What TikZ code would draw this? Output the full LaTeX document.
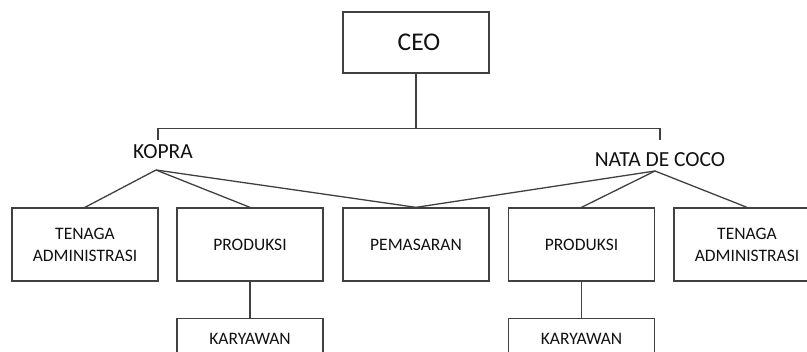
\documentclass[tikz,border=0pt]{standalone}
\usepackage{fontspec}
\setmainfont{Carlito}
\definecolor{linegray}{HTML}{404040}
\definecolor{txt}{HTML}{111111}
\tikzset{
  ln/.style={draw=linegray, line width=1.3pt},
  unitbox/.style={ln, rectangle, minimum width=146pt, minimum height=73pt, inner sep=0pt,
                  align=center, text=txt, font=\fontsize{17.5}{22}\selectfont},
  lowbox/.style={unitbox, minimum height=40pt, anchor=north},
  ceobox/.style={ln, rectangle, minimum width=146pt, minimum height=61pt, inner sep=0pt,
                 text=txt, font=\fontsize{25.5}{30}\selectfont},
  grp/.style={anchor=base, inner sep=0pt, text=txt, font=\fontsize{21.5}{25}\selectfont}
}
\begin{document}
\begin{tikzpicture}[x=1pt, y=-1pt]
\useasboundingbox (0,0) rectangle (807,352);
\clip (0,0) rectangle (807,352);
% CEO
\node[ceobox] (ceo) at (416,42.5) {\hspace*{6pt}CEO};
% group labels
\node[grp] (kopra) at (163,159) {KOPRA};
\node[grp] (nata) at (660,166.5) {NATA DE COCO};
\coordinate (bar) at (416,128.5);
\coordinate (kt) at (158,140);
\coordinate (nt) at (660,140);
\coordinate (kapex) at (156,170);
\coordinate (napex) at (655,171);
% boxes
\node[unitbox] (ta1) at (85,244.5) {TENAGA\\ADMINISTRASI};
\node[unitbox] (pr1) at (250,244.5) {PRODUKSI};
\node[unitbox] (pem) at (416,244.5) {PEMASARAN};
\node[unitbox] (pr2) at (581.5,244.5) {PRODUKSI};
\node[unitbox] (ta2) at (747,244.5) {TENAGA\\ADMINISTRASI};
\node[lowbox] (ka1) at (250,318) {KARYAWAN};
\node[lowbox] (ka2) at (581.5,318) {KARYAWAN};
% connectors
\draw[ln] (ceo.south) -- (bar);
\draw[ln] (kt) -- (kt |- bar) -- (nt |- bar) -- (nt);
\draw[ln] (kapex) -- (ta1.north);
\draw[ln] (kapex) -- (pr1.north);
\draw[ln] (kapex) -- (pem.north);
\draw[ln] (napex) -- (pem.north);
\draw[ln] (napex) -- (pr2.north);
\draw[ln] (napex) -- (ta2.north);
\draw[ln] (pr1.south) -- (ka1.north);
\draw[ln] (pr2.south) -- (ka2.north);
\end{tikzpicture}
\end{document}
